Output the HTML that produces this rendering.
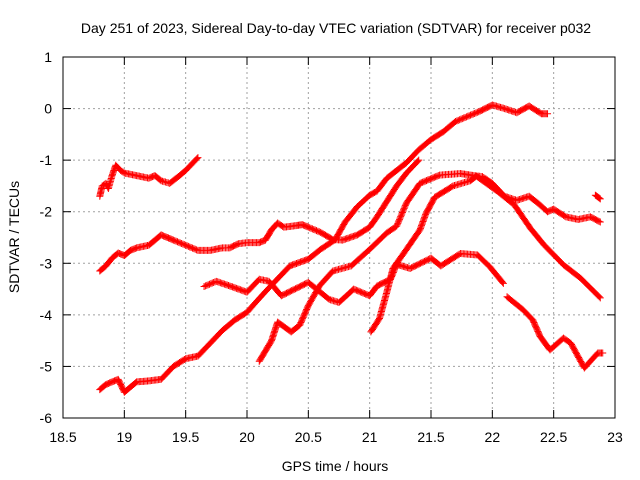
<!DOCTYPE html>
<html><head><meta charset="utf-8"><style>
html,body{margin:0;padding:0;background:#fff;}
svg{display:block;font-family:"Liberation Sans",sans-serif;}
</style></head><body>
<svg id="chart" width="640" height="480" viewBox="0 0 640 480" xmlns="http://www.w3.org/2000/svg">
<rect width="640" height="480" fill="#fff"/>
<text x="336" y="33" font-size="14" text-anchor="middle">Day 251 of 2023, Sidereal Day-to-day VTEC variation (SDTVAR) for receiver p032</text>
<g id="grid"></g><g id="ticks"></g><g id="series"></g>
<rect x="63" y="57" width="552" height="361" fill="none" stroke="#000" stroke-width="1"/>
<text x="335" y="471" font-size="14" text-anchor="middle">GPS time / hours</text>
<text x="0" y="0" font-size="14" text-anchor="middle" transform="translate(19,237) rotate(-90)">SDTVAR / TECUs</text>
</svg>
<script>
const xTicks=[18.5,19,19.5,20,20.5,21,21.5,22,22.5,23];
const xTickLabels=["18.5","19","19.5","20","20.5","21","21.5","22","22.5","23"];
const yTicks=[1,0,-1,-2,-3,-4,-5,-6];
const yTickLabels=["1","0","-1","-2","-3","-4","-5","-6"];
const seriesCluster=[[18.8,-1.7],[18.82,-1.5],[18.85,-1.45],[18.87,-1.55],[18.9,-1.3],[18.93,-1.1],[18.97,-1.2],[19.0,-1.25],[19.1,-1.3],[19.2,-1.35],[19.25,-1.3],[19.3,-1.4],[19.37,-1.45],[19.45,-1.3],[19.5,-1.2],[19.6,-0.95]];
const seriesTop=[[18.8,-5.45],[18.85,-5.35],[18.9,-5.3],[18.95,-5.25],[19.0,-5.5],[19.05,-5.4],[19.1,-5.3],[19.2,-5.28],[19.3,-5.25],[19.4,-5.0],[19.5,-4.85],[19.6,-4.8],[19.7,-4.55],[19.8,-4.3],[19.9,-4.1],[20.0,-3.95],[20.07,-3.76],[20.15,-3.55],[20.25,-3.3],[20.35,-3.05],[20.5,-2.92],[20.6,-2.73],[20.72,-2.54],[20.8,-2.2],[20.9,-1.9],[21.0,-1.68],[21.06,-1.6],[21.14,-1.35],[21.22,-1.2],[21.3,-1.05],[21.4,-0.8],[21.5,-0.6],[21.6,-0.45],[21.7,-0.25],[21.8,-0.15],[21.9,-0.05],[22.0,0.07],[22.1,0.0],[22.2,-0.08],[22.3,0.05],[22.4,-0.1],[22.45,-0.1]];
const seriesA=[[18.8,-3.15],[18.85,-3.05],[18.9,-2.9],[18.95,-2.8],[19.0,-2.85],[19.05,-2.75],[19.1,-2.7],[19.2,-2.65],[19.25,-2.55],[19.3,-2.45],[19.35,-2.5],[19.4,-2.55],[19.5,-2.65],[19.6,-2.75],[19.7,-2.75],[19.8,-2.7],[19.86,-2.7],[19.93,-2.62],[20.0,-2.6],[20.1,-2.6],[20.15,-2.55],[20.2,-2.35],[20.25,-2.22],[20.3,-2.3],[20.4,-2.27],[20.45,-2.25],[20.5,-2.3],[20.6,-2.4],[20.7,-2.54],[20.78,-2.55],[20.9,-2.45],[21.0,-2.3],[21.06,-2.1],[21.14,-1.8],[21.22,-1.5],[21.3,-1.25],[21.4,-1.0]];
const seriesC=[[19.65,-3.45],[19.75,-3.35],[19.86,-3.44],[20.0,-3.56],[20.1,-3.31],[20.18,-3.35],[20.28,-3.63],[20.5,-3.37],[20.67,-3.7],[20.75,-3.76],[20.87,-3.5],[21.0,-3.63],[21.06,-3.44],[21.17,-3.31],[21.22,-3.02],[21.33,-3.1],[21.5,-2.9],[21.58,-3.05],[21.74,-2.81],[21.88,-2.84],[21.98,-3.07],[22.09,-3.39]];
const seriesD=[[20.1,-4.9],[20.2,-4.5],[20.25,-4.14],[20.36,-4.33],[20.43,-4.2],[20.5,-3.82],[20.59,-3.44],[20.7,-3.15],[20.85,-3.05],[21.0,-2.73],[21.14,-2.41],[21.22,-2.28],[21.3,-1.83],[21.41,-1.45],[21.57,-1.29],[21.74,-1.26],[21.85,-1.3],[21.92,-1.32],[22.0,-1.45],[22.1,-1.7],[22.2,-1.78],[22.3,-1.7],[22.38,-1.85],[22.45,-2.0],[22.5,-1.95],[22.6,-2.1],[22.7,-2.15],[22.8,-2.1],[22.88,-2.2]];
const seriesE=[[21.01,-4.33],[21.08,-4.07],[21.14,-3.56],[21.19,-3.1],[21.3,-2.73],[21.41,-2.35],[21.46,-2.03],[21.53,-1.72],[21.68,-1.5],[21.82,-1.4],[21.87,-1.31],[21.94,-1.43],[22.05,-1.62],[22.18,-1.87],[22.31,-2.32],[22.42,-2.64],[22.58,-3.03],[22.72,-3.29],[22.88,-3.67]];
const seriesF=[[22.12,-3.65],[22.25,-3.9],[22.33,-4.1],[22.39,-4.42],[22.47,-4.68],[22.58,-4.45],[22.64,-4.55],[22.75,-5.03],[22.86,-4.74],[22.9,-4.74]];
const seriesG=[[22.84,-1.68],[22.88,-1.75]];
const allSeries=[seriesCluster,seriesTop,seriesA,seriesC,seriesD,seriesE,seriesF,seriesG];
const seriesNames=["series-cluster","series-top","series-a","series-c","series-d","series-e","series-f","series-g"];

const X0=63,X1=615,Y0=57,Y1=418,xmin=18.5,xmax=23,ymin=-6,ymax=1;
function sx(v){return X0+(v-xmin)/(xmax-xmin)*(X1-X0);}
function sy(v){return Y1-(v-ymin)/(ymax-ymin)*(Y1-Y0);}
const NS="http://www.w3.org/2000/svg";
function mk(tag,attrs,parent){const e=document.createElementNS(NS,tag);for(const k in attrs)e.setAttribute(k,attrs[k]);parent.appendChild(e);return e;}
const grid=document.getElementById('grid'),ticks=document.getElementById('ticks'),ser=document.getElementById('series');
xTicks.forEach((t,i)=>{
  const x=sx(t);
  if(i>0&&i<xTicks.length-1){const g=mk('line',{x1:x,x2:x,y1:Y0,y2:Y1,stroke:'#a0a0a0','stroke-dasharray':'2,3','stroke-width':1},grid);
  
  }
  mk('line',{x1:x,x2:x,y1:Y1,y2:Y1-8,stroke:'#000'},ticks);
  mk('line',{x1:x,x2:x,y1:Y0,y2:Y0+8,stroke:'#000'},ticks);
  const tx=mk('text',{x:x,y:442,'font-size':14,'text-anchor':'middle'},ticks);
  tx.textContent=xTickLabels[i];
  
  
});
yTicks.forEach((t,i)=>{
  const y=sy(t);
  if(i>0&&i<yTicks.length-1){const g=mk('line',{x1:X0,x2:X1,y1:y,y2:y,stroke:'#a0a0a0','stroke-dasharray':'2,3','stroke-width':1},grid);
  
  }
  mk('line',{x1:X0,x2:X0+8,y1:y,y2:y,stroke:'#000'},ticks);
  mk('line',{x1:X1,x2:X1-8,y1:y,y2:y,stroke:'#000'},ticks);
  const tx=mk('text',{x:52,y:y+5,'font-size':14,'text-anchor':'end'},ticks);
  tx.textContent=yTickLabels[i];
  
  
});
allSeries.forEach((s,si)=>{
  const g=mk('g',{stroke:'#ff0000','stroke-width':1,fill:'none'},ser);
  
  
  let d='';
  const plus=(x,y)=>{d+=`M${x-3.5},${y}h7M${x},${y-3.5}v7`;};
  for(let i=0;i<s.length;i++){
    const x=sx(s[i][0]),y=sy(s[i][1]);
    plus(x,y);
    if(i<s.length-1){
      const x2=sx(s[i+1][0]),y2=sy(s[i+1][1]);
      const n=Math.max(1,Math.ceil(Math.hypot(x2-x,y2-y)/1.5));
      for(let k=1;k<n;k++)plus(x+(x2-x)*k/n,y+(y2-y)*k/n);
    }
  }
  const p=mk('path',{d:d},g);
  
  
});
</script>
</body></html>
